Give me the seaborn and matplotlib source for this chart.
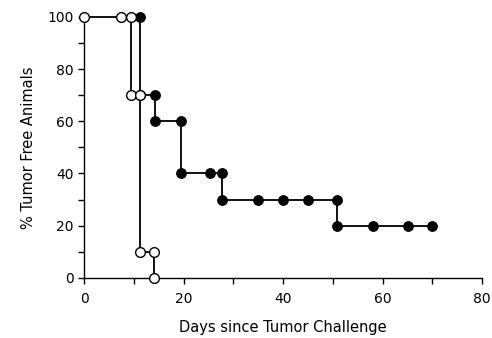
import numpy as np
import pandas as pd
import matplotlib
matplotlib.use('Agg')
import matplotlib.pyplot as plt
import seaborn as sns
from matplotlib.ticker import MultipleLocator

# open circles (control group)
open_days = [0, 7.4, 9.4, 9.4, 11.2, 11.2, 14.1, 14.1]
open_pct = [100, 100, 100, 70, 70, 10, 10, 0]

# filled circles (treated group)
filled_days = [11.3, 11.3, 14.3, 14.3, 19.4, 19.4, 25.2, 27.8, 27.8,
               35, 40, 45, 50.8, 50.8, 58, 65, 70]
filled_pct = [100, 70, 70, 60, 60, 40, 40, 40, 30,
              30, 30, 30, 30, 20, 20, 20, 20]

x_ticks = [0, 20, 40, 60, 80]
y_ticks = [0, 20, 40, 60, 80, 100]

sns.set_style('ticks', {'text.color': 'black', 'axes.labelcolor': 'black',
                        'xtick.color': 'black', 'ytick.color': 'black',
                        'axes.edgecolor': 'black'})
plt.rcParams['font.family'] = ['DejaVu Sans']

fig = plt.figure(figsize=(4.92, 3.38), dpi=100)
ax = fig.add_axes([0.171, 0.178, 0.809, 0.772])

sns.lineplot(x=filled_days, y=filled_pct, sort=False, estimator=None, ax=ax,
             color='black', linewidth=1.3, marker='o', markersize=7,
             markerfacecolor='black', markeredgecolor='black', clip_on=False)
sns.lineplot(x=open_days, y=open_pct, sort=False, estimator=None, ax=ax,
             color='black', linewidth=1.3, marker='o', markersize=7,
             markerfacecolor='white', markeredgecolor='black',
             markeredgewidth=1.0, clip_on=False, zorder=5)

ax.set_xlim(0, 80)
ax.set_ylim(0, 100)
ax.set_xticks(x_ticks)
ax.set_yticks(y_ticks)
ax.xaxis.set_minor_locator(MultipleLocator(10))
ax.yaxis.set_minor_locator(MultipleLocator(10))
ax.tick_params(which='both', direction='out', length=4, width=1, labelsize=10,
               colors='black')
ax.tick_params(axis='x', pad=6)
ax.set_xlabel('Days since Tumor Challenge', fontsize=10.5, labelpad=10)
ax.set_ylabel('% Tumor Free Animals', fontsize=10.5, labelpad=8)
for s in ['left', 'bottom']:
    ax.spines[s].set_linewidth(1)
    ax.spines[s].set_color('black')
sns.despine(ax=ax)

fig.savefig('out.png', dpi=100)
